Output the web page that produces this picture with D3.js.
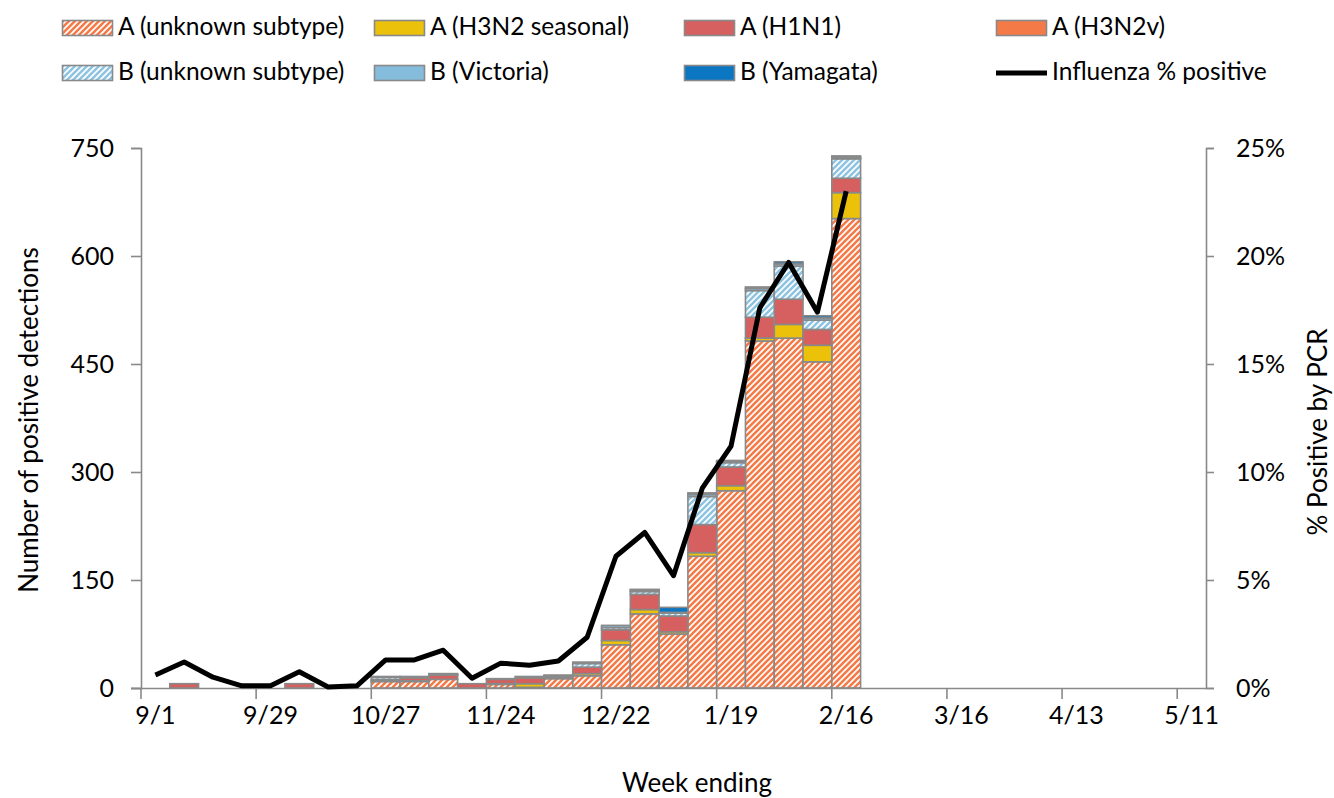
<!DOCTYPE html>
<html>
<head>
<meta charset="utf-8">
<script src="https://cdn.jsdelivr.net/npm/d3@7"></script>
<style>
  html, body { margin: 0; padding: 0; background: #fff; }
  svg { display: block; font-family: Lato, "Liberation Sans", sans-serif; }
</style>
</head>
<body>
<svg id="chart" width="1334" height="798"></svg>
<script>
// ---------- data ----------
const weeks = ["9/1","9/8","9/15","9/22","9/29","10/6","10/13","10/20","10/27","11/3","11/10","11/17",
  "11/24","12/1","12/8","12/15","12/22","12/29","1/5","1/12","1/19","1/26","2/2","2/9","2/16","2/23",
  "3/2","3/9","3/16","3/23","3/30","4/6","4/13","4/20","4/27","5/4","5/11"];
const xTickLabels = ["9/1","9/29","10/27","11/24","12/22","1/19","2/16","3/16","4/13","5/11"];

const aUnknown  = [0,0,0,0,0,0,0,0,9,9,12,0,5,1,13,17,60,103,75,183,274,482,486,453,652,0,0,0,0,0,0,0,0,0,0,0,0];
const aH3N2     = [0,0,0,0,0,0,0,0,1,1,0,0,1,5,1,3,6,6,3,5,7,4,19,23,36,0,0,0,0,0,0,0,0,0,0,0,0];
const aH1N1     = [0,6,0,0,0,6,0,0,2,4,6,6,6,8,2,9,15,21,22,39,26,29,35,22,20,0,0,0,0,0,0,0,0,0,0,0,0];
const aH3N2v    = [0,0,0,0,0,0,0,0,0,0,0,0,0,0,0,0,0,0,0,0,0,0,0,0,0,0,0,0,0,0,0,0,0,0,0,0,0];
const bUnknown  = [0,0,0,0,0,0,0,0,3,1,1,0,1,2,1,5,3,4,4,39,6,37,46,13,27,0,0,0,0,0,0,0,0,0,0,0,0];
const bVictoria = [0,0,0,0,0,0,0,0,1,1,1,0,0,0,1,2,3,2,1,3,2,3,3,3,2,0,0,0,0,0,0,0,0,0,0,0,0];
const bYamagata = [0,0,0,0,0,0,0,0,0,0,0,0,0,0,0,0,0,1,7,2,1,2,3,3,2,0,0,0,0,0,0,0,0,0,0,0,0];
const pctPositive = [0.6,1.2,0.5,0.1,0.1,0.75,0.05,0.1,1.3,1.3,1.75,0.45,1.15,1.05,1.25,2.35,6.1,7.2,5.2,9.25,11.2,17.6,19.7,17.4,23.0];

const leftTicks = [0,150,300,450,600,750];
const rightTicks = [0,0.05,0.10,0.15,0.20,0.25];

const seriesNames = ["A (unknown subtype)","A (H3N2 seasonal)","A (H1N1)","A (H3N2v)",
  "B (unknown subtype)","B (Victoria)","B (Yamagata)"];
const seriesData = [aUnknown,aH3N2,aH1N1,aH3N2v,bUnknown,bVictoria,bYamagata];
const seriesFill = ["url(#hatchA)","#EBC10A","#D65F5F","#F47A48","url(#hatchB)","#85BCDC","#0B76C2"];

// ---------- setup ----------
const svg = d3.select("#chart");
const defs = svg.append("defs");
function hatch(id, color) {
  const p = defs.append("pattern").attr("id", id).attr("patternUnits", "userSpaceOnUse")
    .attr("width", 6).attr("height", 6);
  p.append("rect").attr("width", 6).attr("height", 6).attr("fill", "#fff");
  p.append("path").attr("d", "M-1,7 L7,-1 M-4,4 L4,-4 M2,10 L10,2")
    .attr("stroke", color).attr("stroke-width", 2.6).attr("fill", "none");
}
hatch("hatchA", "#F47A48");
hatch("hatchB", "#8EC4E2");

const table = weeks.map((w, i) => {
  const o = { week: w };
  seriesNames.forEach((n, k) => o[n] = seriesData[k][i]);
  return o;
});
const stacked = d3.stack().keys(seriesNames)(table);

const x = d3.scaleBand().domain(weeks).range([141, 1206]).padding(0);
const yL = d3.scaleLinear().domain([0, 750]).range([688, 148]);
const yR = d3.scaleLinear().domain([0, 0.25]).range([688, 148]);
const axisColor = "#898989";
const tickFont = 25;
const legendFont = 24.5;
const titleFont = 26;

// ---------- bars ----------
const barG = svg.append("g");
stacked.forEach((layer, k) => {
  barG.append("g").selectAll("rect")
    .data(layer.filter(d => d[1] - d[0] > 0))
    .join("rect")
    .attr("x", d => x(d.data.week))
    .attr("width", x.bandwidth())
    .attr("y", d => yL(d[1]))
    .attr("height", d => yL(d[0]) - yL(d[1]))
    .attr("fill", seriesFill[k])
    .attr("stroke", axisColor)
    .attr("stroke-width", 1.6);
});

// ---------- axes ----------
const gL = svg.append("g").attr("transform", "translate(141,0)")
  .call(d3.axisLeft(yL).tickValues(leftTicks).tickSize(10).tickPadding(17));
const gR = svg.append("g").attr("transform", "translate(1206,0)")
  .call(d3.axisRight(yR).tickValues(rightTicks).tickFormat(d3.format(".0%")).tickSize(8).tickPadding(22));
const gB = svg.append("g").attr("transform", "translate(0,688)")
  .call(d3.axisBottom(x).tickValues(xTickLabels).tickSize(0).tickPadding(18));
// tick marks between categories
svg.append("g").selectAll("line").data(xTickLabels).join("line")
  .attr("x1", d => x(d)).attr("x2", d => x(d))
  .attr("y1", 688).attr("y2", 699)
  .attr("stroke", axisColor).attr("stroke-width", 1.6);

[gL, gR, gB].forEach(g => {
  g.select(".domain").attr("stroke", axisColor).attr("stroke-width", 1.6);
  g.selectAll(".tick line").attr("stroke", axisColor).attr("stroke-width", 1.6);
  g.selectAll(".tick text").attr("fill", "#000").style("font-size", tickFont + "px")
    .style("font-family", "Lato, 'Liberation Sans', sans-serif");
});
gB.select(".domain").attr("d", "M131,0.5H1206");

// ---------- line ----------
const line = d3.line()
  .x((d, i) => x(weeks[i]) + x.bandwidth() / 2)
  .y(d => yR(d / 100));
svg.append("path").datum(pctPositive).attr("d", line)
  .attr("fill", "none").attr("stroke", "#000").attr("stroke-width", 5)
  .attr("stroke-linejoin", "round").attr("stroke-linecap", "butt");

// ---------- axis titles ----------
svg.append("text").attr("transform", "translate(31,420) rotate(-90)")
  .attr("text-anchor", "middle").attr("dominant-baseline", "middle")
  .style("font-size", titleFont + "px").text("Number of positive detections");
svg.append("text").attr("transform", "translate(1320,432) rotate(-90)")
  .attr("text-anchor", "middle").attr("dominant-baseline", "middle")
  .style("font-size", titleFont + "px").text("% Positive by PCR");
svg.append("text").attr("x", 697).attr("y", 785)
  .attr("text-anchor", "middle").attr("dominant-baseline", "middle")
  .style("font-size", titleFont + "px").text("Week ending");

// ---------- legend ----------
const legendItems = [
  { name: seriesNames[0], fill: seriesFill[0], col: 0, row: 0 },
  { name: seriesNames[1], fill: seriesFill[1], col: 1, row: 0 },
  { name: seriesNames[2], fill: seriesFill[2], col: 2, row: 0 },
  { name: seriesNames[3], fill: seriesFill[3], col: 3, row: 0 },
  { name: seriesNames[4], fill: seriesFill[4], col: 0, row: 1 },
  { name: seriesNames[5], fill: seriesFill[5], col: 1, row: 1 },
  { name: seriesNames[6], fill: seriesFill[6], col: 2, row: 1 },
  { name: "Influenza % positive", line: true, col: 3, row: 1 }
];
const colX = [62, 374, 684, 996];
const rowY = [28, 73];
const lg = svg.append("g");
legendItems.forEach(it => {
  const g = lg.append("g").attr("transform", `translate(${colX[it.col]},${rowY[it.row]})`);
  if (it.line) {
    g.append("line").attr("x1", 0).attr("x2", 51).attr("y1", 0).attr("y2", 0)
      .attr("stroke", "#000").attr("stroke-width", 5);
  } else {
    g.append("rect").attr("x", 0.5).attr("y", -7.5).attr("width", 50).attr("height", 15)
      .attr("fill", it.fill).attr("stroke", axisColor).attr("stroke-width", 1.6);
  }
  g.append("text").attr("x", 56).attr("y", 1).attr("dominant-baseline", "middle")
    .style("font-size", legendFont + "px").text(it.name);
});
</script>
</body>
</html>
